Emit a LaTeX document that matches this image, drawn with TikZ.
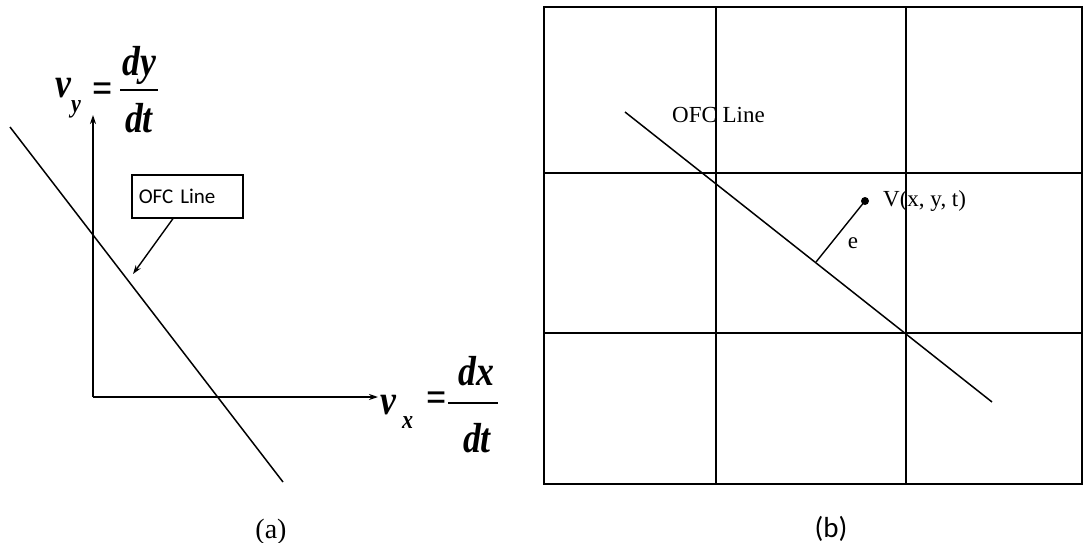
\documentclass[tikz,border=0pt]{standalone}
\usepackage{fontspec}
\setmainfont{Liberation Serif}
\newfontfamily\calfont{Carlito}
\newfontfamily\eqfont[FakeStretch=0.85]{Liberation Serif}
\usetikzlibrary{arrows.meta}
\begin{document}
\begin{tikzpicture}[x=1pt,y=-1pt,
  eqbig/.style={font=\eqfont\bfseries\itshape\fontsize{42}{42}\selectfont, inner sep=0pt, anchor=base west},
  eqsub/.style={font=\eqfont\bfseries\itshape\fontsize{26}{26}\selectfont, inner sep=0pt, anchor=base west},
  eqfrac/.style={font=\eqfont\bfseries\itshape\fontsize{42}{42}\selectfont, inner sep=0pt, anchor=base},
  eqsign/.style={font=\eqfont\bfseries\fontsize{42}{42}\selectfont, inner sep=0pt},
  fracbar/.style={line width=2.6pt},
  axis/.style={line width=1.6pt, -{Stealth[length=9pt,width=6pt]}},
  ofcline/.style={line width=1.5pt},
  gridline/.style={line width=2pt},
  lbl/.style={font=\fontsize{23}{26}\selectfont, inner sep=0pt},
  callout/.style={draw, line width=1.6pt, font=\calfont\fontsize{21}{24}\selectfont,
    minimum height=43pt, text width=97pt, inner sep=7pt, align=left},
  caption/.style={font=\fontsize{28}{30}\selectfont, inner sep=0pt}]
\useasboundingbox (0,0) rectangle (1084,543);
\fill[white] (0,0) rectangle (1084,543);

% ---------- panel (a) ----------
\coordinate (origin) at (93,397);
\coordinate (ytip) at (93,115);
\coordinate (xtip) at (378,397);
\draw[axis] (origin) -- (ytip);
\draw[axis] (origin) -- (xtip);

\coordinate (la1) at (10,127);
\coordinate (la2) at (283,482);
\draw[ofcline] (la1) -- (la2);

\node[callout, anchor=north west] (ofcbox) at (131,174) {OFC Line};
\coordinate (tipa) at (133,274);
\draw[line width=1.4pt, -{Stealth[length=9pt,width=6pt]}] ([xshift=42pt]ofcbox.south west) -- (tipa);

% v_y = dy/dt
\node[eqbig] (vy) at (55,97) {v};
\node[eqsub] (vysub) at (71,112) {y};
\node[eqsign] (eqy) at (103,93) {=};
\draw[fracbar] (120,90) coordinate (bya) -- (158,90) coordinate (byb);
\node[eqfrac] (dy) at (139,75) {dy};
\node[eqfrac] (dty) at (139,132) {dt};

% v_x = dx/dt
\node[eqbig] (vx) at (380,414) {v};
\node[eqsub] (vxsub) at (402,428) {x};
\node[eqsign] (eqx) at (437,402) {=};
\draw[fracbar] (448,403) coordinate (bxa) -- (498,403) coordinate (bxb);
\node[eqfrac] (dx) at (476,385) {dx};
\node[eqfrac] (dtx) at (477,452) {dt};

\node[caption] (capa) at (271,532) {(a)};

% ---------- panel (b) ----------
\draw[gridline] (544,7) rectangle (1082,484);
\draw[gridline] (716,7) -- (716,484);
\draw[gridline] (906,7) -- (906,484);
\draw[gridline] (544,173) -- (1082,173);
\draw[gridline] (544,333) -- (1082,333);

\coordinate (lb1) at (625,112);
\coordinate (lb2) at (992,402);
\draw[ofcline] (lb1) -- (lb2);
\node[lbl, anchor=west] (ofcb) at (672,115) {OFC Line};

\fill (865,201) circle (4pt);
\coordinate (vpt) at (865,201);
\coordinate (foot) at (816,262);
\draw[line width=1.4pt] (foot) -- (vpt);
\node[lbl, anchor=west] (vlab) at (883,201) {V(x, y, t)};
\node[lbl] (elab) at (853,243) {e};

\node[caption, font=\calfont\fontsize{29}{30}\selectfont] (capb) at (831,529) {(b)};
\end{tikzpicture}
\end{document}
